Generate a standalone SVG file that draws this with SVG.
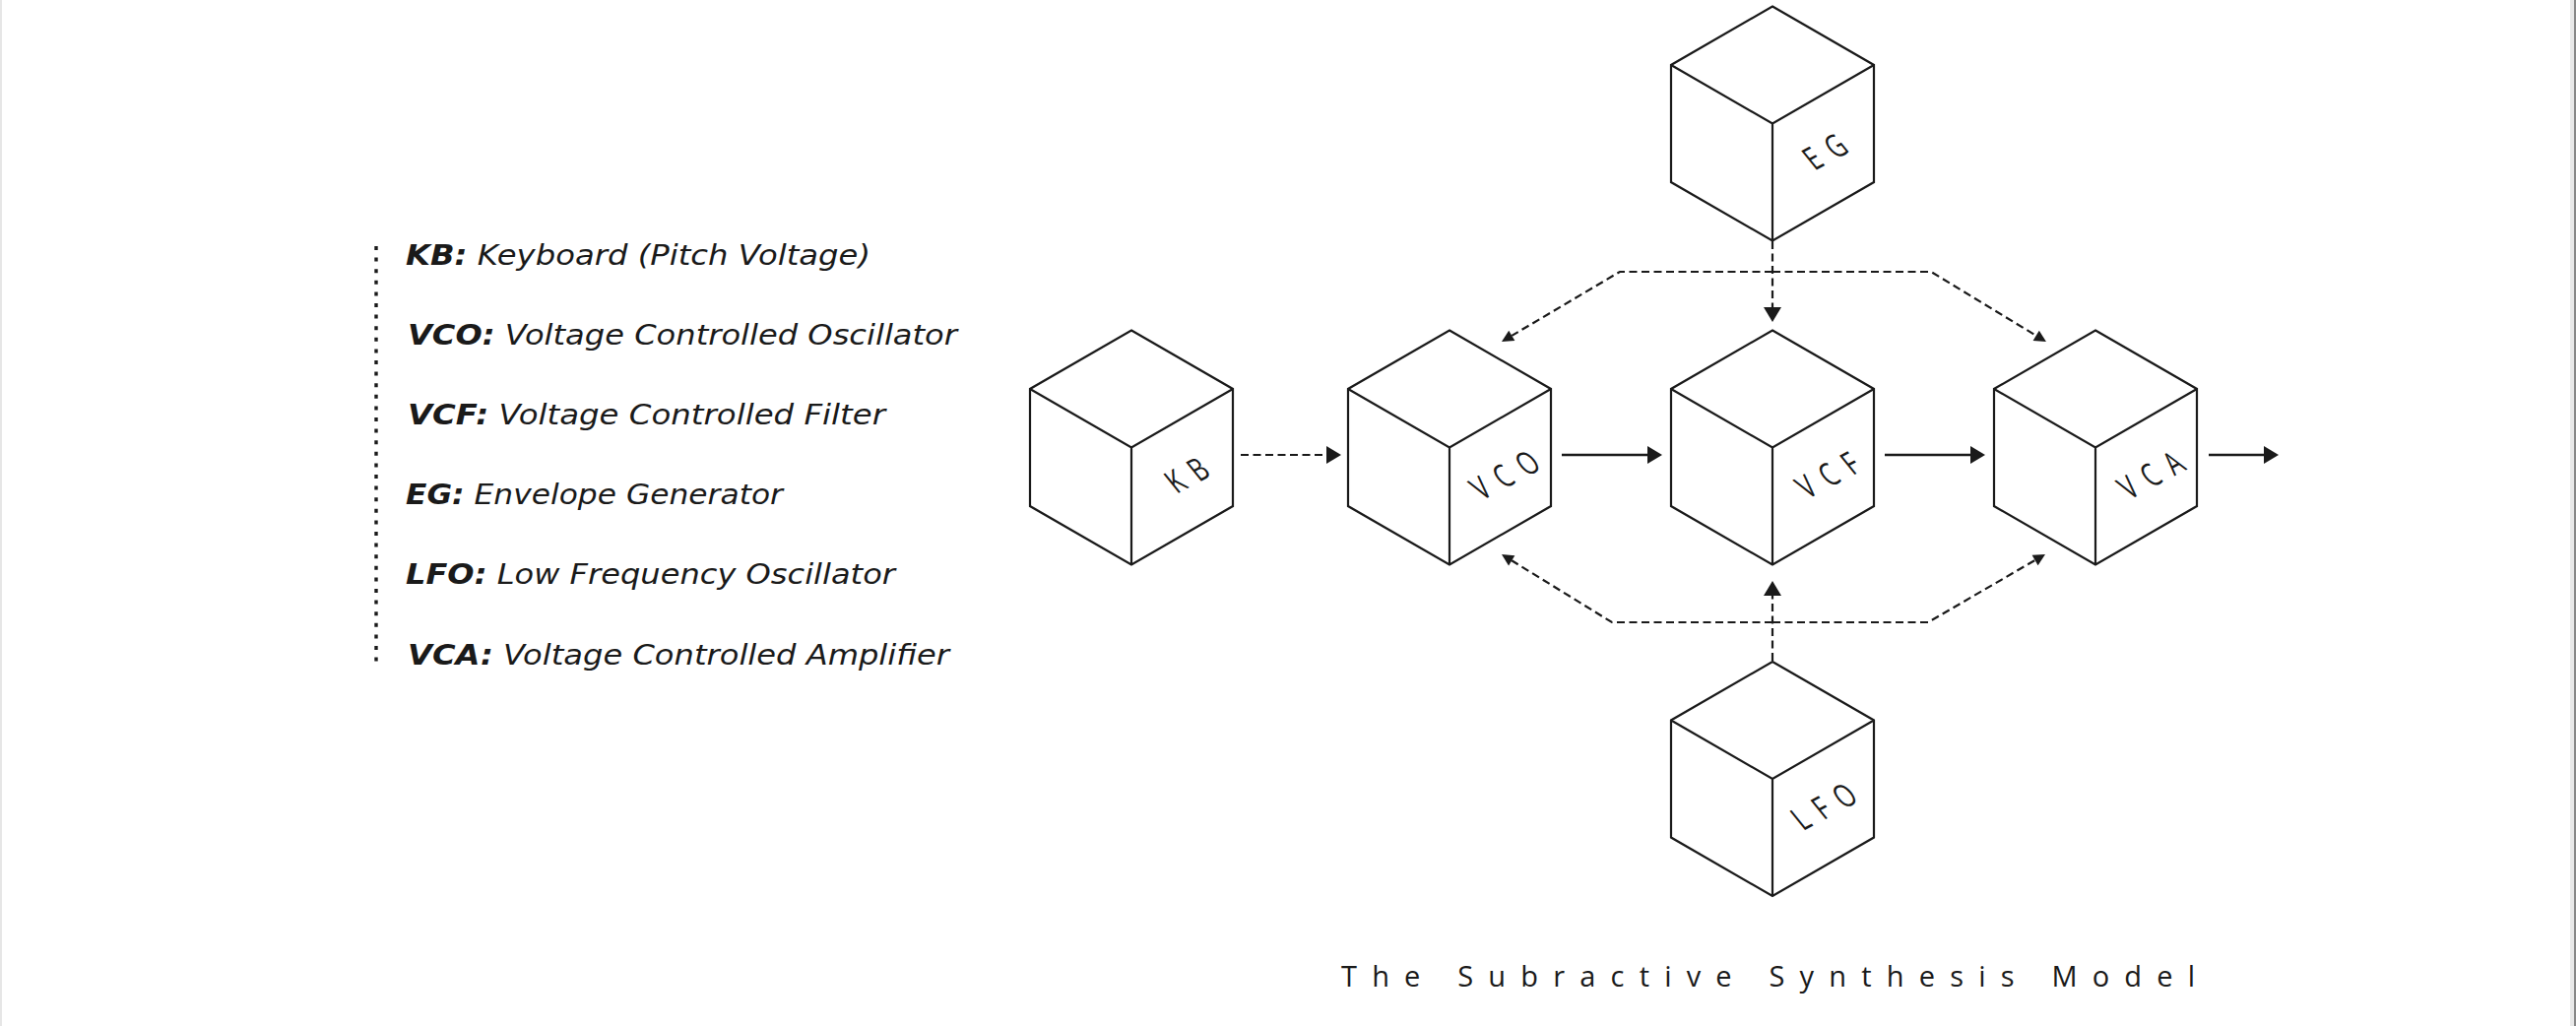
<svg xmlns="http://www.w3.org/2000/svg" width="2616" height="1042" viewBox="0 0 2616 1042">
<style>
.cube{fill:#fff;stroke:#1a1a1a;stroke-width:2.2;stroke-linejoin:miter}
.lbl{font-family:"Open Sans","Liberation Sans",sans-serif;font-weight:400;font-size:34px;fill:#1a1a1a;letter-spacing:16px;text-anchor:middle}
.leg{font-family:"DejaVu Sans","Liberation Sans",sans-serif;font-style:italic;font-size:28px;fill:#1a1a1a}
.leg .b{font-weight:700}
.title{font-family:"Open Sans","Liberation Sans",sans-serif;font-size:29px;fill:#1a1a1a}
.solid{fill:none;stroke:#1a1a1a;stroke-width:2.4}
.dash{fill:none;stroke:#1a1a1a;stroke-width:2.2;stroke-dasharray:8 4.5}
</style>
<defs>
<marker id="ah" markerUnits="userSpaceOnUse" markerWidth="16" markerHeight="20" viewBox="0 -10 16 20" refX="0" refY="0" orient="auto" overflow="visible">
<path d="M0,-9 L15,0 L0,9 z" fill="#1a1a1a"/>
</marker>
<marker id="ahs" markerUnits="userSpaceOnUse" markerWidth="14" markerHeight="14" viewBox="0 -7 14 14" refX="0" refY="0" orient="auto" overflow="visible">
<path d="M0,-6 L12,0 L0,6 z" fill="#1a1a1a"/>
</marker>
<g id="cubeShape">
<path class="cube" d="M0,0 L103,59.5 L103,178.5 L0,238 L-103,178.5 L-103,59.5 Z"/>
<path class="cube" fill="none" d="M-103,59.5 L0,119 L103,59.5 M0,119 L0,238"/>
</g>
</defs>
<rect x="0" y="0" width="2616" height="1042" fill="#ffffff"/>
<rect x="0" y="0" width="2" height="1042" fill="#e6e6e6"/>
<rect x="2610" y="0" width="4" height="1042" fill="#e8e8e8"/>
<rect x="2614" y="0" width="2" height="1042" fill="#888888"/>

<g id="legend">
<line x1="382" y1="250" x2="382" y2="676" stroke="#1a1a1a" stroke-width="3.4" stroke-dasharray="4 7.6"/>
<text class="leg" x="412" y="269" textLength="472" lengthAdjust="spacingAndGlyphs"><tspan class="b">KB:</tspan> Keyboard (Pitch Voltage)</text>
<text class="leg" x="414" y="350" textLength="558" lengthAdjust="spacingAndGlyphs"><tspan class="b">VCO:</tspan> Voltage Controlled Oscillator</text>
<text class="leg" x="414" y="431" textLength="485" lengthAdjust="spacingAndGlyphs"><tspan class="b">VCF:</tspan> Voltage Controlled Filter</text>
<text class="leg" x="412" y="512" textLength="383" lengthAdjust="spacingAndGlyphs"><tspan class="b">EG:</tspan> Envelope Generator</text>
<text class="leg" x="412" y="593" textLength="497" lengthAdjust="spacingAndGlyphs"><tspan class="b">LFO:</tspan> Low Frequency Oscillator</text>
<text class="leg" x="414" y="675" textLength="550" lengthAdjust="spacingAndGlyphs"><tspan class="b">VCA:</tspan> Voltage Controlled Amplifier</text>
</g>

<g id="connectors">
<path class="dash" d="M1260,462 H1347" marker-end="url(#ah)"/>
<path class="solid" d="M1586,462 H1673" marker-end="url(#ah)"/>
<path class="solid" d="M1914,462 H2001" marker-end="url(#ah)"/>
<path class="solid" d="M2243,462 H2299" marker-end="url(#ah)"/>
<path class="dash" d="M1800,245 V312" marker-end="url(#ah)"/>
<path class="dash" d="M1800,276 H1645 L1535.3,340.9" marker-end="url(#ahs)"/>
<path class="dash" d="M1800,276 H1961 L2067.7,340.8" marker-end="url(#ahs)"/>
<path class="dash" d="M1800,671 V605" marker-end="url(#ah)"/>
<path class="dash" d="M1800,632 H1637 L1535.2,569.3" marker-end="url(#ahs)"/>
<path class="dash" d="M1800,632 H1958 L2066.6,569" marker-end="url(#ahs)"/>
</g>

<g id="node-KB">
<use href="#cubeShape" transform="translate(1149,335.5)"/>
<text class="lbl" transform="translate(1218,489.5) rotate(-28) skewX(11) scale(0.7,1)">KB</text>
</g>
<g id="node-VCO">
<use href="#cubeShape" transform="translate(1472,335.5)"/>
<text class="lbl" transform="translate(1541,489.5) rotate(-28) skewX(11) scale(0.7,1)">VCO</text>
</g>
<g id="node-VCF">
<use href="#cubeShape" transform="translate(1800,335.5)"/>
<text class="lbl" transform="translate(1869,489.5) rotate(-28) skewX(11) scale(0.7,1)">VCF</text>
</g>
<g id="node-VCA">
<use href="#cubeShape" transform="translate(2128,335.5)"/>
<text class="lbl" transform="translate(2197,489.5) rotate(-28) skewX(11) scale(0.7,1)">VCA</text>
</g>
<g id="node-EG">
<use href="#cubeShape" transform="translate(1800,6.5)"/>
<text class="lbl" transform="translate(1866,161) rotate(-28) skewX(11) scale(0.7,1)">EG</text>
</g>
<g id="node-LFO">
<use href="#cubeShape" transform="translate(1800,672)"/>
<text class="lbl" transform="translate(1865,826) rotate(-28) skewX(11) scale(0.7,1)">LFO</text>
</g>

<text class="title" x="1362" y="1002" textLength="867" lengthAdjust="spacing">The Subractive Synthesis Model</text>
</svg>
